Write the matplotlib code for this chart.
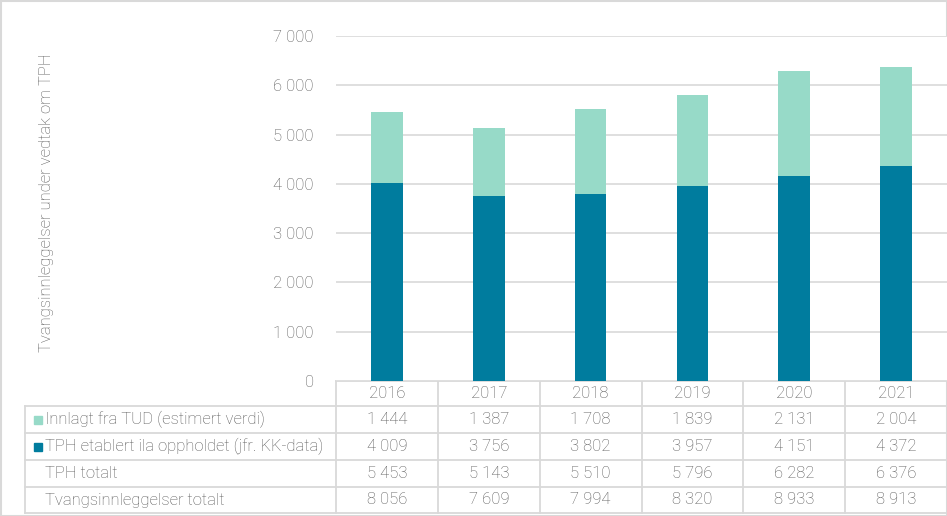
import matplotlib
matplotlib.use("Agg")
import matplotlib.pyplot as plt
import matplotlib.transforms as mtransforms
from matplotlib.patches import Rectangle

plt.rcParams["font.family"] = ["Roboto", "DejaVu Sans"]
plt.rcParams["font.weight"] = "light"

years = ["2016", "2017", "2018", "2019", "2020", "2021"]
tph_etablert = [4009, 3756, 3802, 3957, 4151, 4372]
innlagt_tud = [1444, 1387, 1708, 1839, 2131, 2004]
tph_totalt = [5453, 5143, 5510, 5796, 6282, 6376]
tvang_totalt = [8056, 7609, 7994, 8320, 8933, 8913]

row_labels = ["Innlagt fra TUD (estimert verdi)",
              "TPH etablert ila oppholdet (jfr. KK-data)",
              "TPH totalt",
              "Tvangsinnleggelser totalt"]
yticks = [0, 1000, 2000, 3000, 4000, 5000, 6000, 7000]

c_dark = "#007C9E"
c_light = "#97DAC8"
c_grid = "#D9D9D9"
c_text = "#595959"
fs = 12

W, H = 947, 516
fig = plt.figure(figsize=(W / 100, H / 100), dpi=100)

def fmt(v):
    return "{:,}".format(v).replace(",", " ")

# main chart axes (pixel geometry of reference)
ax = fig.add_axes([336 / W, 1 - 381 / H, 611 / W, 345 / H])
x = range(len(years))
ax.bar(x, tph_etablert, width=0.31, color=c_dark, zorder=3)
ax.bar(x, innlagt_tud, width=0.31, bottom=tph_etablert, color=c_light, zorder=3)
ax.set_xlim(-0.5, len(years) - 0.5)
ax.set_ylim(0, 7000)
ax.set_yticks(yticks)
ax.set_yticklabels([fmt(v) for v in yticks])
ax.yaxis.grid(True, color=c_grid, lw=1.2, zorder=0)
ax.set_xticks([])
for s in ax.spines.values():
    s.set_visible(False)
ax.tick_params(axis="y", length=0, pad=16, labelsize=fs, labelcolor=c_text)

fig.text(47 / W, 1 - 203 / H, "Tvangsinnleggelser under vedtak om TPH",
         rotation=90, ha="center", va="center", fontsize=fs, color=c_text)

# table overlay in pixel coordinates
at = fig.add_axes([0, 0, 1, 1], zorder=-1)
at.set_xlim(0, W)
at.set_ylim(H, 0)
at.axis("off")
tr = mtransforms.blended_transform_factory(ax.transData, at.transData)

row_edges = [381, 406, 433, 460, 487, 513]
lw_t = 1.3
at.plot([336, W], [row_edges[0]] * 2, color=c_grid, lw=lw_t)
for yy in row_edges[1:]:
    at.plot([25, W], [yy, yy], color=c_grid, lw=lw_t)
at.plot([25, 25], [row_edges[1], row_edges[-1]], color=c_grid, lw=lw_t)
for i in range(len(years)):
    at.plot([i - 0.5, i - 0.5], [row_edges[0], row_edges[-1]], color=c_grid,
            lw=lw_t, transform=tr)

rows = [innlagt_tud, tph_etablert, tph_totalt, tvang_totalt]
ymid = [(row_edges[k] + row_edges[k + 1]) / 2 for k in range(len(row_edges) - 1)]
for i, yr in enumerate(years):
    at.text(i, ymid[0], yr, transform=tr, ha="center", va="center",
            fontsize=fs, color=c_text)
    for r, vals in enumerate(rows):
        at.text(i, ymid[r + 1], fmt(vals[i]), transform=tr, ha="center",
                va="center", fontsize=fs, color=c_text)

markers = [c_light, c_dark, None, None]
for r, lab in enumerate(row_labels):
    if markers[r]:
        at.add_patch(Rectangle((34, ymid[r + 1] - 4), 8, 8, color=markers[r]))
    at.text(45, ymid[r + 1], lab, ha="left", va="center", fontsize=fs,
            color=c_text)

# outer border
at.add_patch(Rectangle((0.5, 0.5), W - 1, H - 1, fill=False, ec=c_grid, lw=1.5))

fig.savefig("out.png", dpi=100)
